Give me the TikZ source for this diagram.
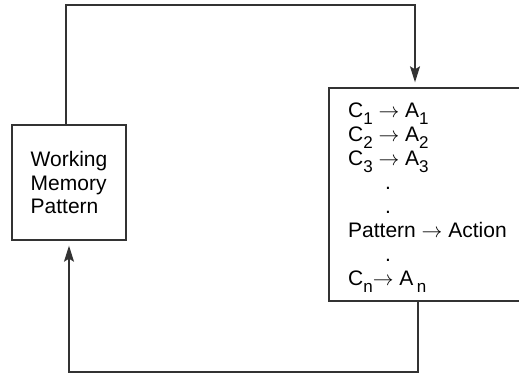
\documentclass[tikz,border=0pt]{standalone}
\usepackage{fontspec}
\setmainfont{Liberation Sans}
\usetikzlibrary{arrows.meta,positioning}
\newcommand{\lowidx}[1]{\raisebox{-7pt}{\fontsize{17}{17}\selectfont #1}}
\tikzset{
  box/.style={draw=black!80, line width=1.4pt, inner sep=0pt},
  line/.style={-{Stealth[length=16pt,width=10pt,inset=3pt]}, line width=1.2pt, draw=black!80, shorten >=5pt}
}
\begin{document}
\begin{tikzpicture}[x=1pt,y=-1pt]
  \useasboundingbox (0,0) rectangle (519,373);
  \clip (0,0) rectangle (519,373);
  \node[box, minimum width=114pt, minimum height=115pt, align=left,
        font=\fontsize{21}{23.5}\selectfont] (wm) at (69,182.5) {Working\\Memory\\Pattern};
  \node[box, minimum width=202pt, minimum height=213pt] (pm) at (430,194.5) {};
  \node[anchor=north west, inner sep=0pt, align=left,
        font=\fontsize{21}{24}\selectfont] (rules) at (348,103)
    {C\lowidx{1} $\rightarrow$ A\lowidx{1}\\
     C\lowidx{2} $\rightarrow$ A\lowidx{2}\\
     C\lowidx{3} $\rightarrow$ A\lowidx{3}\\
     \hspace*{37pt}.\\
     \hspace*{37pt}.\\
     Pattern $\rightarrow$ Action\\
     \hspace*{37pt}.\\
     C\lowidx{n}$\rightarrow$ A\,\lowidx{n}};
  \coordinate (tl) at (66,5);
  \coordinate (tr) at (415,5);
  \coordinate (br) at (418,372);
  \coordinate (bl) at (69,372);
  \draw[line] ([xshift=-3pt]wm.north) -- (tl) -- (tr) -- ([xshift=-15pt]pm.north);
  \draw[line] ([xshift=-12pt]pm.south) -- (br) -- (bl) -- (wm.south);
\end{tikzpicture}
\end{document}
